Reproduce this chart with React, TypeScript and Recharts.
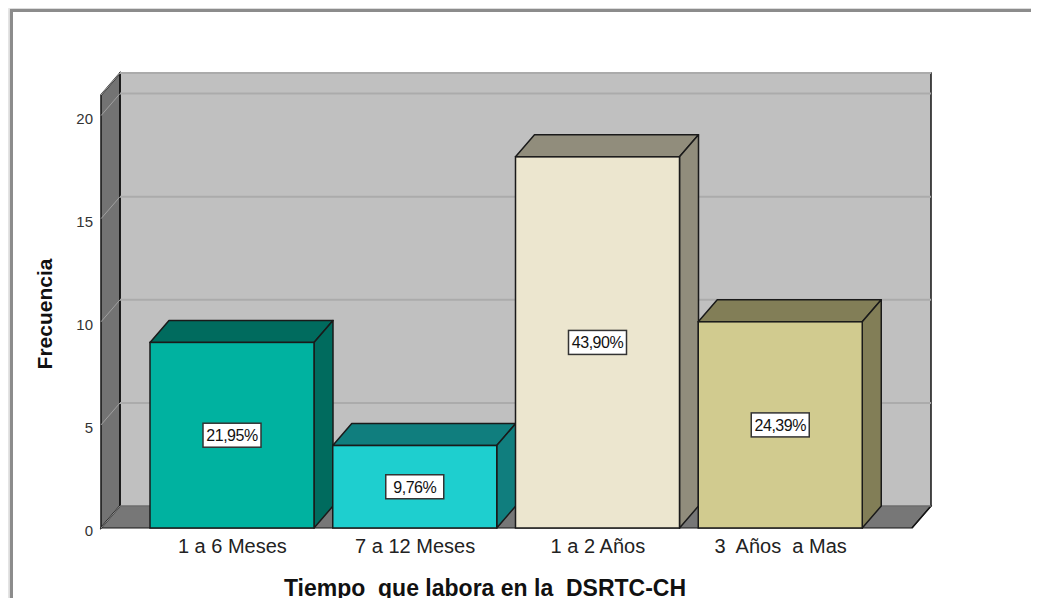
import { Bar, BarChart, CartesianGrid, LabelList, XAxis, YAxis } from "recharts";

const categories = ["1 a 6 Meses", "7 a 12 Meses", "1 a 2 Años", "3\u00a0 Años\u00a0 a Mas"];
const frequencies = [9, 4, 18, 10];
const percentages = ["21,95%", "9,76%", "43,90%", "24,39%"];
const yTicks = [0, 5, 10, 15, 20];

const frontColors = ["#00B2A0", "#1ECFCF", "#ECE6CF", "#D1CB8F"];
const shadeColors = ["#006B5E", "#107E7E", "#918D7C", "#827E57"];

const data = categories.map((category, i) => ({
  category,
  value: frequencies[i],
  pct: percentages[i],
}));

// depth of the fake 3D
const DX = 19;
const DY = 22;

function WallLine(props: any) {
  const { x, y, width, height, y1, index } = props;
  const L = x;
  const R = x + width;
  const T = y;
  const B = y + height;
  const isFloor = Math.abs(y1 - B) < 1;
  return (
    <g>
      {index === 0 && (
        <g>
          <rect x={L + DX} y={T - DY} width={width} height={height} fill="#C0C0C0" />
          <polygon
            points={`${L},${T} ${L + DX},${T - DY} ${L + DX},${B - DY} ${L},${B}`}
            fill="#737373"
            stroke="#151515"
            strokeWidth={1.5}
          />
          <polygon
            points={`${L},${B} ${L + DX},${B - DY} ${R + DX},${B - DY} ${R},${B}`}
            fill="#777777"
            stroke="#151515"
            strokeWidth={1.2}
          />
          <polyline
            points={`${L + DX},${B - DY} ${L + DX},${T - DY} ${R + DX},${T - DY} ${R + DX},${B - DY} ${R},${B}`}
            fill="none"
            stroke="#151515"
            strokeWidth={1.5}
          />
        </g>
      )}
      {!isFloor && (
        <g>
          <line x1={L + DX} y1={y1 - DY} x2={R + DX} y2={y1 - DY} stroke="#ABABAB" strokeWidth={2} />
          <line x1={L} y1={y1} x2={L + DX} y2={y1 - DY} stroke="#A0A0A0" strokeWidth={1} />
        </g>
      )}
      {isFloor && (
        <g>
          <line x1={L + DX} y1={y1 - DY} x2={R + DX} y2={y1 - DY} stroke="#9A9A9A" strokeWidth={1} />
          <line x1={L} y1={y1} x2={L + DX} y2={y1 - DY} stroke="#8E8E8E" strokeWidth={1} />
        </g>
      )}
    </g>
  );
}

function Box3D(props: any) {
  const { x, y, width, height, index } = props;
  const front = frontColors[index];
  const shade = shadeColors[index];
  const r = x + width;
  const b = y + height;
  return (
    <g>
      <polygon
        points={`${x},${y} ${x + DX},${y - DY} ${r + DX},${y - DY} ${r},${y}`}
        fill={shade}
        stroke="#1a1a1a"
        strokeWidth={1.5}
        strokeLinejoin="round"
      />
      <polygon
        points={`${r},${y} ${r + DX},${y - DY} ${r + DX},${b - DY} ${r},${b}`}
        fill={shade}
        stroke="#1a1a1a"
        strokeWidth={1.5}
        strokeLinejoin="round"
      />
      <rect x={x} y={y} width={width} height={height} fill={front} stroke="#1a1a1a" strokeWidth={1.5} />
    </g>
  );
}

function PctLabel(props: any) {
  const { x, y, width, height, value } = props;
  const cx = x + width / 2;
  const cy = y + height / 2;
  return (
    <g>
      <rect x={cx - 29} y={cy - 12} width={58} height={24} fill="#FFFFFF" stroke="#333333" strokeWidth={1.5} />
      <text
        x={cx}
        y={cy + 6}
        textAnchor="middle"
        fontSize={16}
        fill="#111111"
        letterSpacing={-0.5}
        fontFamily="'Liberation Sans', Arial, sans-serif"
      >
        {value}
      </text>
    </g>
  );
}

export default function App() {
  return (
    <div
      style={{
        position: "relative",
        width: 1039,
        height: 606,
        margin: -8,
        background: "#FFFFFF",
        fontFamily: "'Liberation Sans', Arial, sans-serif",
        overflow: "hidden",
      }}
    >
      <div
        style={{
          position: "absolute",
          left: 10,
          top: 9,
          width: 1026,
          height: 594,
          borderLeft: "3px solid #8C8C8C",
          borderTop: "3px solid #8C8C8C",
          borderRight: "1px solid #E2E2E2",
          borderBottom: "1px solid #E2E2E2",
          boxShadow: "-2px -2px 4px rgba(0,0,0,0.18)",
        }}
      />
      <div style={{ position: "absolute", left: 0, top: 0 }}>
        <BarChart
          width={1039}
          height={606}
          data={data}
          margin={{ top: 95, right: 127, left: 61, bottom: 0 }}
        >
          <CartesianGrid vertical={false} horizontal={WallLine} stroke="none" />
          <XAxis
            dataKey="category"
            height={78}
            axisLine={false}
            tickLine={false}
            tickMargin={5}
            padding={{ left: 40, right: 40 }}
            tick={{ fontSize: 20, fill: "#222222" }}
            interval={0}
          />
          <YAxis
            width={40}
            domain={[0, 21]}
            ticks={yTicks}
            axisLine={false}
            tickLine={false}
            tick={{ fontSize: 15, fill: "#333333", dy: 3 }}
          />
          <Bar dataKey="value" barSize={164} shape={Box3D} isAnimationActive={false}>
            <LabelList dataKey="pct" content={PctLabel} />
          </Bar>
        </BarChart>
      </div>
      <div
        style={{
          position: "absolute",
          left: 45,
          top: 314,
          transform: "translate(-50%, -50%) rotate(-90deg)",
          fontSize: 21,
          fontWeight: "bold",
          color: "#111111",
          whiteSpace: "pre",
        }}
      >
        Frecuencia
      </div>
      <div
        style={{
          position: "absolute",
          left: 485,
          top: 588,
          transform: "translate(-50%, -50%)",
          fontSize: 23,
          fontWeight: "bold",
          color: "#111111",
          whiteSpace: "pre",
        }}
      >
        {"Tiempo  que labora en la  DSRTC-CH"}
      </div>
    </div>
  );
}
